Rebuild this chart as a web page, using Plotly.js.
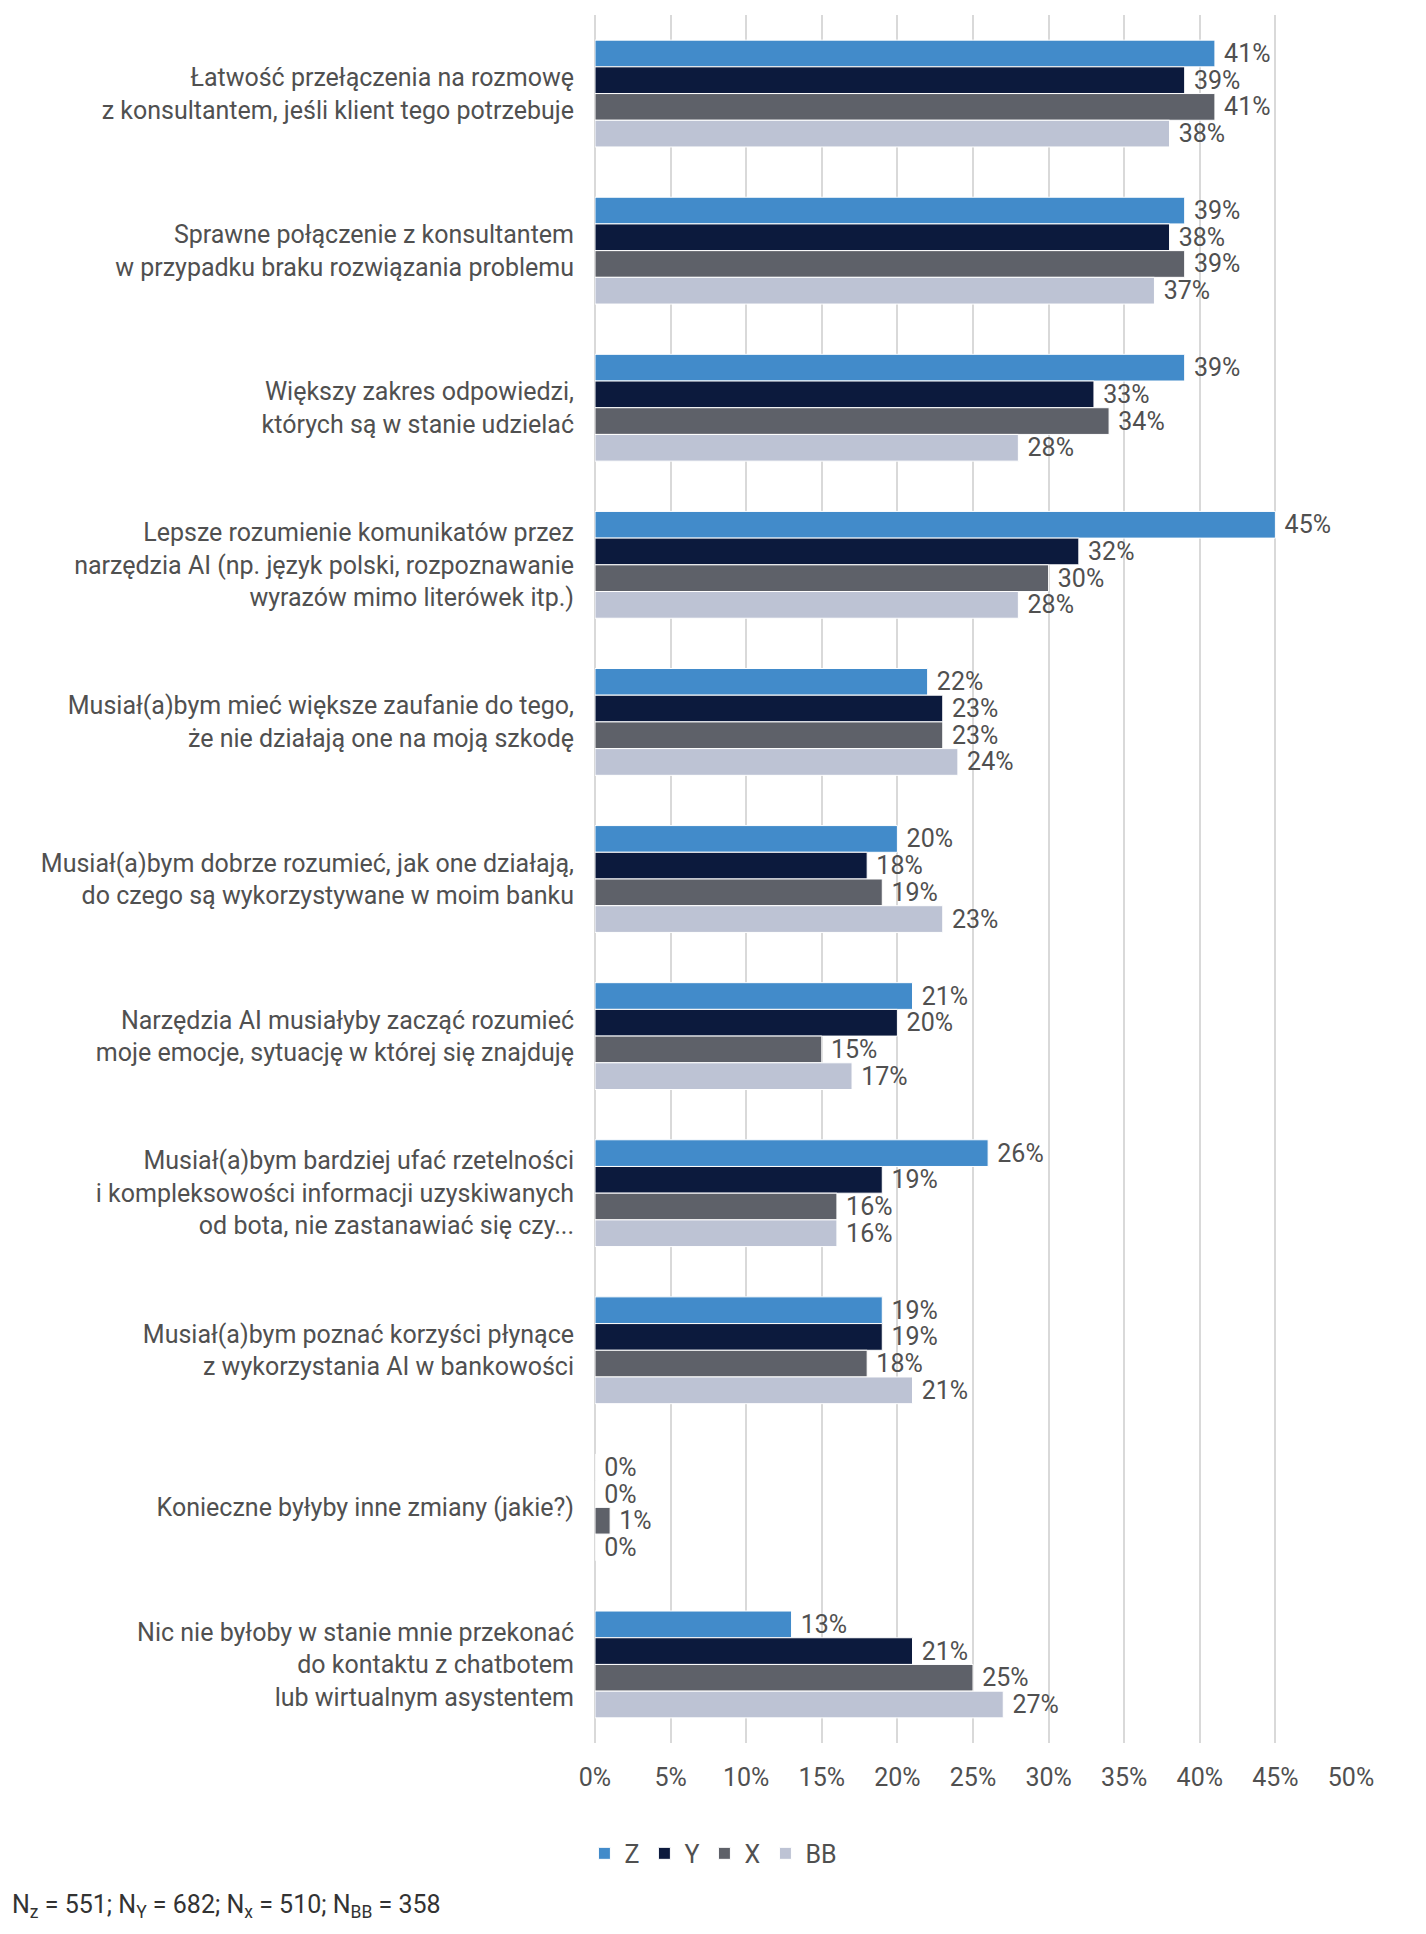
<!DOCTYPE html>
<html>
<head>
<meta charset="utf-8">
<script src="https://cdn.plot.ly/plotly-3.0.1.min.js"></script>
<style>html,body{margin:0;padding:0;background:#fff;}#chart{width:1426px;height:1934px;}</style>
</head>
<body>
<div id="chart"></div>
<script>
const categories = [
  "Łatwość przełączenia na rozmowę<br>z konsultantem, jeśli klient tego potrzebuje",
  "Sprawne połączenie z konsultantem<br>w przypadku braku rozwiązania problemu",
  "Większy zakres odpowiedzi,<br>których są w stanie udzielać",
  "Lepsze rozumienie komunikatów przez<br>narzędzia AI (np. język polski, rozpoznawanie<br>wyrazów mimo literówek itp.)",
  "Musiał(a)bym mieć większe zaufanie do tego,<br>że nie działają one na moją szkodę",
  "Musiał(a)bym dobrze rozumieć, jak one działają,<br>do czego są wykorzystywane w moim banku",
  "Narzędzia AI musiałyby zacząć rozumieć<br>moje emocje, sytuację w której się znajduję",
  "Musiał(a)bym bardziej ufać rzetelności<br>i kompleksowości informacji uzyskiwanych<br>od bota, nie zastanawiać się czy...",
  "Musiał(a)bym poznać korzyści płynące<br>z wykorzystania AI w bankowości",
  "Konieczne byłyby inne zmiany (jakie?)",
  "Nic nie byłoby w stanie mnie przekonać<br>do kontaktu z chatbotem<br>lub wirtualnym asystentem"
];
const seriesNames = ["Z", "Y", "X", "BB"];
const valuesZ  = [41, 39, 39, 45, 22, 20, 21, 26, 19, 0, 13];
const valuesY  = [39, 38, 33, 32, 23, 18, 20, 19, 19, 0, 21];
const valuesX  = [41, 39, 34, 30, 23, 19, 15, 16, 18, 1, 25];
const valuesBB = [38, 37, 28, 28, 24, 23, 17, 16, 21, 0, 27];
const tickValues = [0, 5, 10, 15, 20, 25, 30, 35, 40, 45, 50];
const footnote = "N<sub>z</sub> = 551; N<sub>Y</sub> = 682; N<sub>x</sub> = 510; N<sub>BB</sub> = 358";

const colors = ["#428BCA", "#0C1A3D", "#5E6169", "#BDC3D4"];
const allValues = [valuesZ, valuesY, valuesX, valuesBB];
const FONT = "Roboto, 'Noto Sans', sans-serif";
const TXT = "#505050";
const FS = 25;

const traces = allValues.map((vals, i) => ({
  type: "bar",
  orientation: "h",
  name: seriesNames[i],
  y: categories,
  x: vals,
  marker: { color: colors[i], line: { color: "#ffffff", width: 1 } },
  text: vals.map(v => " " + v + "%"),
  textposition: "outside",
  constraintext: "none",
  cliponaxis: false,
  textfont: { family: FONT, size: FS, color: TXT },
  hoverinfo: "x+name"
}));

const layout = {
  width: 1426,
  height: 1934,
  paper_bgcolor: "#ffffff",
  plot_bgcolor: "#ffffff",
  font: { family: FONT, size: FS, color: TXT },
  margin: { l: 595, r: 75, t: 15, b: 191, pad: 0 },
  barmode: "group",
  bargap: 0.32,
  bargroupgap: 0,
  showlegend: true,
  legend: {
    orientation: "h",
    x: -0.014, xanchor: "left",
    y: -0.064, yanchor: "middle",
    font: { family: FONT, size: FS, color: TXT },
    traceorder: "normal",
    itemclick: false
  },
  xaxis: {
    range: [0, 50],
    tickvals: tickValues,
    ticktext: tickValues.map(v => v + "%"),
    showgrid: true,
    gridcolor: "#D9D9D9",
    gridwidth: 2,
    zeroline: true,
    zerolinecolor: "#D9D9D9",
    zerolinewidth: 2,
    showline: false,
    ticks: "outside",
    ticklen: 12,
    tickcolor: "rgba(0,0,0,0)",
    tickfont: { family: FONT, size: FS, color: TXT },
    fixedrange: true
  },
  yaxis: {
    type: "category",
    autorange: "reversed",
    showgrid: false,
    zeroline: false,
    showline: false,
    ticks: "",
    ticklabelstandoff: 20,
    tickfont: { family: FONT, size: FS, color: TXT },
    fixedrange: true
  },
  annotations: [{
    text: footnote,
    xref: "paper", yref: "paper",
    x: -0.774, xanchor: "left",
    y: -0.0943, yanchor: "middle",
    showarrow: false,
    font: { family: FONT, size: FS, color: "#333333" }
  }]
};

Plotly.newPlot("chart", traces, layout, { displayModeBar: false, staticPlot: true });
</script>
</body>
</html>
